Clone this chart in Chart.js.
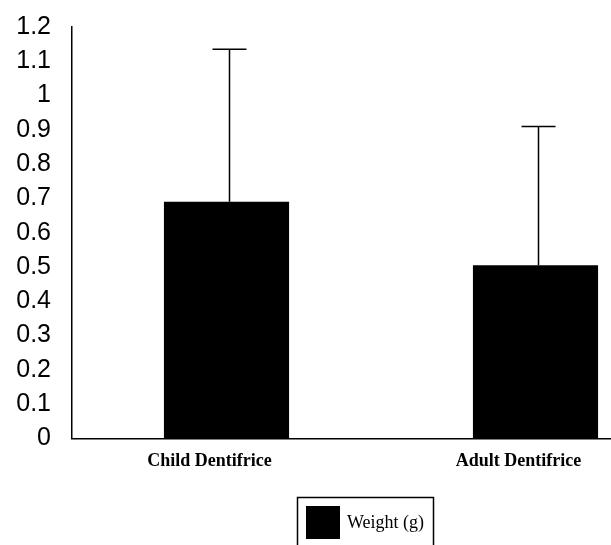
<!DOCTYPE html>
<html><head><meta charset="utf-8">
<script src="https://cdn.jsdelivr.net/npm/chart.js@4/dist/chart.umd.min.js"></script>
<style>
html,body{margin:0;padding:0;background:#fff;overflow:hidden;width:611px;height:545px;}
#wrap{position:absolute;left:0;top:0;width:690px;height:545px;}
</style></head><body>
<div id="wrap"><canvas id="c" width="690" height="545"></canvas></div>
<script>
const categories = ["Child Dentifrice", "Adult Dentifrice"];
const weightMeans = [0.69, 0.505];
const weightUpperErr = [1.135, 0.91];
const yTicks = [0, 0.1, 0.2, 0.3, 0.4, 0.5, 0.6, 0.7, 0.8, 0.9, 1, 1.1, 1.2];
const seriesLabel = "Weight (g)";

const errorBars = {
  id: 'errorBars',
  afterDatasetsDraw(chart) {
    const ctx = chart.ctx, meta = chart.getDatasetMeta(0), y = chart.scales.y;
    ctx.save();
    ctx.strokeStyle = '#000'; ctx.lineWidth = 1.5;
    meta.data.forEach((bar, i) => {
      const x = bar.x + 3, yTop = y.getPixelForValue(weightUpperErr[i]);
      ctx.beginPath();
      ctx.moveTo(x, bar.y); ctx.lineTo(x, yTop);
      ctx.moveTo(x - 17, yTop); ctx.lineTo(x + 17, yTop);
      ctx.stroke();
    });
    ctx.restore();
  }
};
const boxLegend = {
  id: 'boxLegend',
  afterDraw(chart) {
    const ctx = chart.ctx;
    ctx.save();
    ctx.strokeStyle = '#000'; ctx.lineWidth = 1.5;
    ctx.strokeRect(297.5, 497.5, 136, 60);
    ctx.fillStyle = chart.data.datasets[0].backgroundColor;
    ctx.fillRect(306, 506, 34, 33);
    ctx.fillStyle = '#000';
    ctx.font = '18px "Liberation Serif"';
    ctx.textBaseline = 'middle';
    ctx.fillText(chart.data.datasets[0].label, 347, 523);
    ctx.restore();
  }
};

new Chart(document.getElementById('c'), {
  type: 'bar',
  data: {
    labels: categories,
    datasets: [{ label: seriesLabel, data: weightMeans, backgroundColor: '#000',
      barPercentage: 0.405, categoryPercentage: 1 }]
  },
  options: {
    responsive: false, animation: false,
    layout: { padding: { top: 27, bottom: 61, left: 0, right: 0 } },
    plugins: { legend: { display: false }, tooltip: { enabled: false } },
    scales: {
      x: {
        grid: { display: false, drawTicks: false },
        border: { color: '#000', width: 1.5 },
        ticks: { color: '#000', font: { family: 'Liberation Serif', size: 18, weight: 'bold' },
          padding: 12, labelOffset: -17, maxRotation: 0 }
      },
      y: {
        min: 0, max: 1.2,
        afterBuildTicks(scale) { scale.ticks = yTicks.map(v => ({ value: v })); },
        afterFit(scale) { scale.width = 72; scale.paddingTop = 0; scale.paddingBottom = 0; },
        grid: { display: false, drawTicks: false },
        border: { color: '#000', width: 1.5 },
        ticks: { color: '#000', font: { family: 'Liberation Sans', size: 25, lineHeight: 0.5 }, padding: 21,
          callback: v => String(Math.round(v * 10) / 10) }
      }
    }
  },
  plugins: [errorBars, boxLegend]
});
</script>
</body></html>
